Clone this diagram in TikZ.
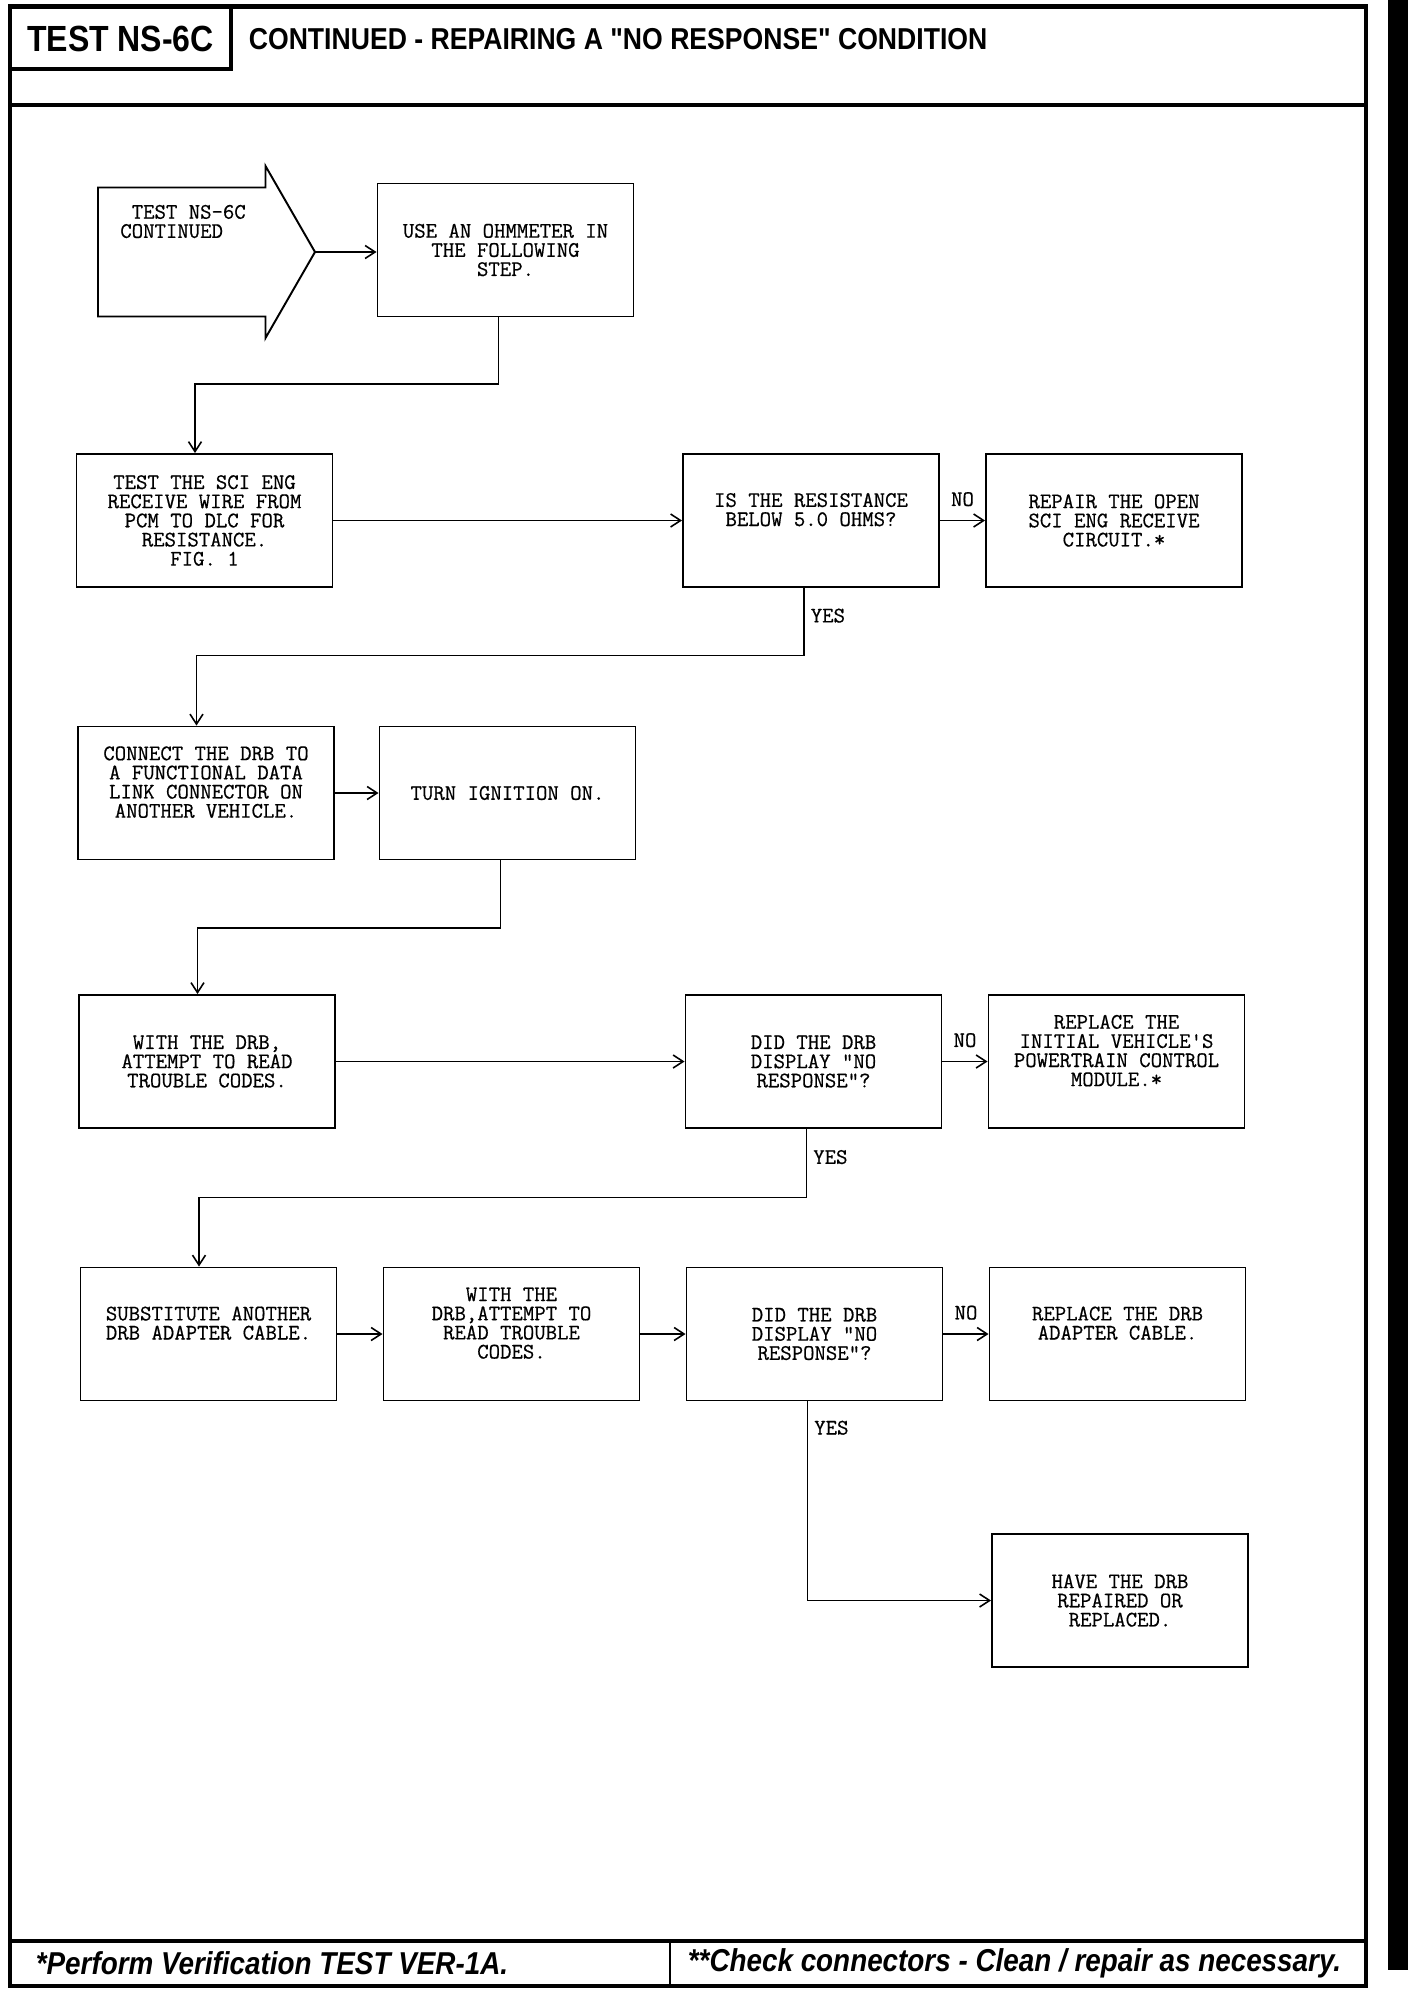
\documentclass[tikz,border=0pt]{standalone}
\usepackage{fontspec}
\usepackage{tikz}
\usetikzlibrary{calc}
\usetikzlibrary{arrows.meta}
\usetikzlibrary{positioning}
\newfontfamily\headfont[FakeStretch = 0.88]{Liberation Sans}
\newfontfamily\boxfont[FakeBold = 0.6]{Latin Modern Mono}
\tikzset{>={Straight Barb[length = 2mm, width = 2.6mm]}}
\tikzstyle{frame} = [line width = 2.4pt]
\tikzstyle{stepbox} = [draw, line width = 1.1pt, minimum width = 5.12cm, minimum height = 2.66cm, align = center, inner sep = 2, font = \boxfont\fontsize{12.6}{10.9}\selectfont]
\tikzstyle{raised} = [text depth = 0.44cm]
\tikzstyle{flow} = [->, line width = 0.9pt]
\tikzstyle{answer} = [inner sep = 0, font = \boxfont\fontsize{12.6}{10.9}\selectfont]

\begin{document}
\begin{tikzpicture}
\useasboundingbox (0, 0) rectangle (28.16, -40);
\fill (27.76, 0) rectangle (28.16, -39.4);
\draw [frame] (0.2, -0.13) rectangle (27.32, -39.72);
\draw [frame] (0.2, -1.38) -| (4.62, -0.13);
\draw [frame] (0.2, -2.1) -- (27.32, -2.1);
\draw [frame] (0.2, -38.82) -- (27.32, -38.82);
\draw [line width = 1.2pt] (13.4, -38.82) -- (13.4, -39.72);
\node [inner sep = 0, font = \headfont\bfseries\fontsize{20.7}{24}\selectfont] (testno) at (2.41, -0.77) {TEST NS-6C};
\node [anchor = west, inner sep = 0, font = \headfont\bfseries\fontsize{17.2}{20}\selectfont] (title) at (4.97, -0.79) {CONTINUED - REPAIRING A "NO RESPONSE" CONDITION};
\node [anchor = west, inner sep = 0, font = \headfont\bfseries\itshape\fontsize{18}{20}\selectfont] (verify) at (0.71, -39.27) {*Perform Verification TEST VER-1A.};
\node [anchor = west, inner sep = 0, font = \headfont\bfseries\itshape\fontsize{18}{20}\selectfont] (check) at (13.75, -39.27) {**Check connectors - Clean / repair as necessary.};

\draw [line width = 1.1pt] (1.96, -3.75) -- (5.31, -3.75) -- (5.31, -3.32) -- (6.3, -5.04) -- (5.31, -6.76) -- (5.31, -6.33) -- (1.96, -6.33) -- cycle;
\coordinate (tip) at (6.3, -5.04);
\node [anchor = west, align = left, inner sep = 0, font = \boxfont\fontsize{12.6}{10.9}\selectfont] (starttxt) at (2.4, -4.43) {~TEST NS-6C\\CONTINUED};

\node [stepbox] (usemeter) at (10.11, -5.0) {USE AN OHMMETER IN\\THE FOLLOWING\\STEP.};
\node [stepbox] (testwire) at (4.09, -10.41) {TEST THE SCI ENG\\RECEIVE WIRE FROM\\PCM TO DLC FOR\\RESISTANCE.\\FIG. 1};
\node [stepbox, raised] (isbelow) at (16.22, -10.41) {IS THE RESISTANCE\\BELOW 5.0 OHMS?};
\node [stepbox] (repairopen) at (22.28, -10.41) {REPAIR THE OPEN\\SCI ENG RECEIVE\\CIRCUIT.*};
\node [stepbox, raised] (connectdrb) at (4.12, -15.86) {CONNECT THE DRB TO\\A FUNCTIONAL DATA\\LINK CONNECTOR ON\\ANOTHER VEHICLE.};
\node [stepbox] (ignition) at (10.15, -15.86) {TURN IGNITION ON.};
\node [stepbox] (readcodes) at (4.14, -21.23) {WITH THE DRB,\\ATTEMPT TO READ\\TROUBLE CODES.};
\node [stepbox] (noresp) at (16.27, -21.23) {DID THE DRB\\DISPLAY "NO\\RESPONSE"?};
\node [stepbox, raised] (replacepcm) at (22.33, -21.23) {REPLACE THE\\INITIAL VEHICLE'S\\POWERTRAIN CONTROL\\MODULE.*};
\node [stepbox, raised] (subcable) at (4.17, -26.68) {SUBSTITUTE ANOTHER\\DRB ADAPTER CABLE.};
\node [stepbox, raised] (readagain) at (10.23, -26.68) {WITH THE\\DRB,ATTEMPT TO\\READ TROUBLE\\CODES.};
\node [stepbox] (noresp2) at (16.29, -26.68) {DID THE DRB\\DISPLAY "NO\\RESPONSE"?};
\node [stepbox, raised] (replacecable) at (22.35, -26.68) {REPLACE THE DRB\\ADAPTER CABLE.};
\node [stepbox] (repairdrb) at (22.40, -32.01) {HAVE THE DRB\\REPAIRED OR\\REPLACED.};

\draw [flow] (tip) -- (tip -| usemeter.west);
\draw [flow] ([xshift = -0.14cm] usemeter.south) -- ++(0, -1.33) -| ([xshift = -0.19cm] testwire.north);
\draw [flow] (testwire.east) -- (isbelow.west);
\draw [flow] (isbelow.east) -- node [answer, above = 0.27cm] {NO} (repairopen.west);
\draw [flow] ([xshift = -0.14cm] isbelow.south) -- node [answer, right = 0.12cm, pos = 0.41] {YES} ++(0, -1.35) -| ([xshift = -0.19cm] connectdrb.north);
\draw [flow] (connectdrb.east) -- (ignition.west);
\draw [flow] ([xshift = -0.14cm] ignition.south) -- ++(0, -1.35) -| ([xshift = -0.19cm] readcodes.north);
\draw [flow] (readcodes.east) -- (noresp.west);
\draw [flow] (noresp.east) -- node [answer, above = 0.27cm] {NO} (replacepcm.west);
\draw [flow] ([xshift = -0.14cm] noresp.south) -- node [answer, right = 0.12cm, pos = 0.41] {YES} ++(0, -1.37) -| ([xshift = -0.19cm] subcable.north);
\draw [flow] (subcable.east) -- (readagain.west);
\draw [flow] (readagain.east) -- (noresp2.west);
\draw [flow] (noresp2.east) -- node [answer, above = 0.27cm] {NO} (replacecable.west);
\draw [flow] ([xshift = -0.14cm] noresp2.south) |- node [answer, right = 0.12cm, pos = 0.066] {YES} (repairdrb.west);
\end{tikzpicture}
\end{document}
